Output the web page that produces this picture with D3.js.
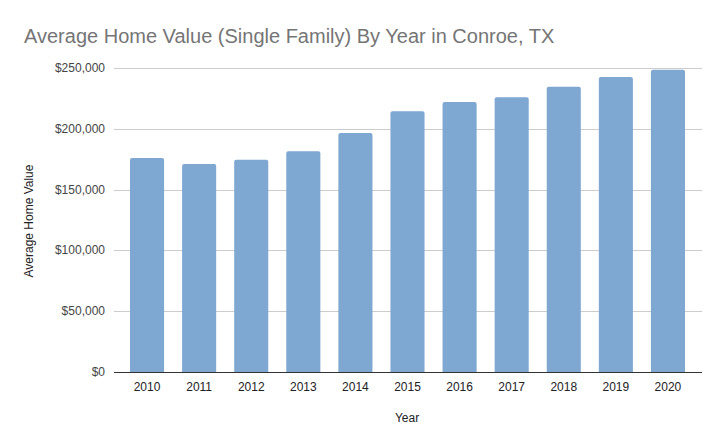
<!DOCTYPE html>
<html><head><meta charset="utf-8">
<script src="https://cdn.jsdelivr.net/npm/d3@7"></script>
<style>body{margin:0;background:#fff;} svg{display:block;}</style>
</head><body>
<svg id="c" width="725" height="447"></svg>
<script>
const years = ["2010","2011","2012","2013","2014","2015","2016","2017","2018","2019","2020"];
const values = [176000,171000,174500,181500,196500,214500,222000,226000,234500,242500,248500];
const yTicks = [0,50000,100000,150000,200000,250000];
const title = "Average Home Value (Single Family) By Year in Conroe, TX";
const xTitle = "Year";
const yTitle = "Average Home Value";

const svg = d3.select("#c");
const font = "Arial, 'Liberation Sans', sans-serif";
const x = d3.scaleBand().domain(years).range([121,694]).paddingInner(0.346).paddingOuter(0.173);
const y = d3.scaleLinear().domain([0,250000]).range([372,68]);
const fmt = d => "$" + d3.format(",")(d);

svg.append("text").attr("x",24).attr("y",43).attr("font-family",font).attr("font-size",20)
  .attr("fill","#757575").text(title);

// gridlines
svg.append("g").selectAll("line").data(yTicks.filter(d=>d>0)).join("line")
  .attr("x1",114).attr("x2",702).attr("y1",d=>Math.round(y(d))+0.5).attr("y2",d=>Math.round(y(d))+0.5)
  .attr("stroke","#cccccc").attr("stroke-width",1);

// y labels
svg.append("g").selectAll("text").data(yTicks).join("text")
  .attr("x",105).attr("y",d=>y(d)+4).attr("text-anchor","end")
  .attr("font-family",font).attr("font-size",12).attr("fill","#444").text(fmt);

// bars
svg.append("g").selectAll("path").data(years).join("path")
  .attr("d",(d,i)=>{
    const x0=x(d), w=x.bandwidth(), y0=y(values[i]), yb=y(0), r=2;
    return `M${x0},${yb}V${y0+r}Q${x0},${y0} ${x0+r},${y0}H${x0+w-r}Q${x0+w},${y0} ${x0+w},${y0+r}V${yb}Z`;
  })
  .attr("fill","#7ea7d1");

// zero line
svg.append("line").attr("x1",114).attr("x2",702).attr("y1",372.5).attr("y2",372.5)
  .attr("stroke","#333").attr("stroke-width",1);

// x labels
svg.append("g").selectAll("text").data(years).join("text")
  .attr("x",d=>x(d)+x.bandwidth()/2).attr("y",391).attr("text-anchor","middle")
  .attr("font-family",font).attr("font-size",12).attr("fill","#222").text(d=>d);

svg.append("text").attr("x",407).attr("y",422).attr("text-anchor","middle")
  .attr("font-family",font).attr("font-size",12).attr("fill","#222").text(xTitle);

svg.append("text").attr("transform","translate(33,221) rotate(-90)").attr("text-anchor","middle")
  .attr("font-family",font).attr("font-size",12).attr("fill","#222").text(yTitle);
</script>
</body></html>
